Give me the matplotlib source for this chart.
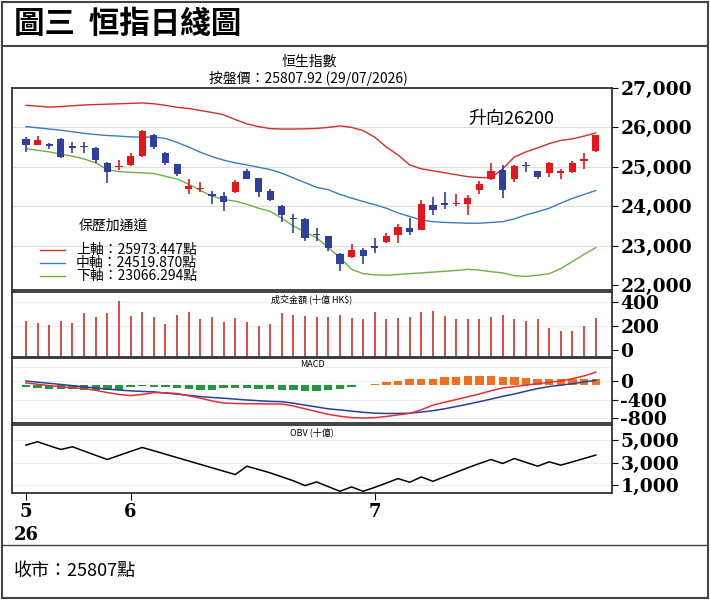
import matplotlib
matplotlib.use("Agg")
import matplotlib.pyplot as plt
import numpy as np

plt.rcParams['font.family'] = ['Noto Sans CJK TC', 'DejaVu Sans']

opens  = [25713,25565,25589,25713,25523,25531,25490,25110,24986,25053,25276,25820,25358,25069,24433,24433,24310,24253,24351,24888,
          24706,24393,24005,23708,23675,23295,23237,22800,22702,22883,22990,23097,23262,23444,23403,24038,24088,24046,24046,24418,
          24681,24913,24698,25053,24888,24847,24847,24863,25160,25400]
closes = [25548,25688,25531,25243,25490,25506,25177,24863,25020,25276,25919,25506,25110,24830,24516,24475,24269,24104,24615,24698,
          24351,24170,23790,23667,23196,23262,22949,22537,22883,22726,22949,23237,23485,23345,24063,23898,24038,24088,24211,24558,
          24888,24418,25011,25011,24748,25094,24888,25094,25193,25808]
highs  = [25754,25770,25610,25720,25630,25630,25510,25130,25177,25358,25930,25830,25370,25080,24681,24615,24393,24351,24665,24946,
          24720,24434,24020,23815,23690,23444,23250,22810,23048,22949,23196,23320,23543,23691,24170,24228,24368,24310,24285,24640,
          25094,25053,25053,25135,24900,25135,24946,25160,25342,25820]
lows   = [25383,25548,25440,25220,25342,25342,25110,24599,24912,25030,25260,25440,25053,24780,24310,24351,24063,23873,24340,24680,
          24228,24121,23609,23320,23114,23130,22866,22355,22690,22537,22825,23080,23073,23262,23390,23790,23939,24005,23774,24310,
          24670,24203,24615,24863,24681,24748,24698,24850,24946,25380]
upper = [26560,26540,26515,26530,26550,26570,26580,26590,26600,26610,26620,26600,26560,26510,26480,26430,26380,26320,26200,26090,
         26020,25970,25960,25960,25965,25975,26000,26040,26000,25920,25750,25500,25300,25050,24950,24900,24850,24800,24750,24730,
         24720,24950,25250,25380,25480,25590,25670,25710,25780,25860]
middle = [26020,25990,25960,25930,25890,25850,25820,25795,25780,25760,25755,25755,25720,25620,25500,25370,25260,25170,25100,25050,
          24990,24930,24840,24720,24600,24480,24420,24300,24210,24120,24040,23950,23830,23740,23650,23610,23590,23580,23570,23570,
          23590,23610,23680,23780,23860,23950,24080,24200,24300,24400]
lower = [25460,25420,25380,25320,25270,25200,25100,24930,24880,24860,24850,24830,24760,24690,24560,24400,24260,24170,24130,24050,
         23950,23870,23700,23500,23350,23200,22950,22700,22400,22290,22260,22250,22270,22290,22310,22330,22350,22370,22400,22380,
         22340,22310,22240,22220,22250,22290,22420,22600,22780,22950]
volume = [237,219,207,243,225,305,272,305,408,278,317,272,213,287,311,257,272,234,260,228,
          198,213,305,293,281,272,272,287,266,252,314,252,266,272,314,323,281,257,252,252,
          272,293,252,237,257,178,154,154,198,263]
dif = [-42,-70,-100,-125,-145,-163,-200,-250,-290,-315,-290,-250,-255,-270,-320,-370,-430,-475,-485,-490,
       -492,-495,-497,-540,-600,-660,-720,-760,-790,-800,-790,-765,-730,-700,-620,-520,-460,-400,-340,-280,
       -210,-150,-120,-90,-57,-30,0,50,110,190]
dea = [0,-25,-50,-75,-100,-127,-150,-175,-195,-212,-225,-234,-260,-285,-310,-335,-355,-372,-390,-410,
       -425,-440,-446,-480,-520,-560,-600,-623,-650,-675,-694,-700,-700,-695,-670,-640,-600,-550,-500,-446,
       -390,-330,-280,-220,-163,-120,-90,-57,-20,14]
hist = [-40,-55,-85,-85,-85,-100,-100,-105,-100,-28,-20,-28,-42,-55,-85,-100,-100,-55,-55,-55,
        -70,-85,-100,-110,-125,-125,-110,-85,-28,7,28,70,100,125,140,140,170,185,200,200,
        200,185,170,155,140,140,125,125,125,125]
hist_base = -92
obv = [4556,4852,4500,4170,4408,4030,3650,3283,3640,4000,4348,4050,3750,3450,3150,2850,2550,2250,1950,2690,
       2400,2100,1750,1400,970,1300,880,470,855,470,820,1200,1595,1270,1740,1355,1750,2150,2550,2930,
       3280,2930,3370,3030,2690,3075,2780,3075,3370,3670]
month_idx = [0, 9, 30]
month_labels = ["5\n26", "6", "7"]

n = len(opens)
x = np.arange(n)
RED, BLUE = '#e8141c', '#2e3f9e'
serif = dict(family='DejaVu Serif', weight='bold')

fig = plt.figure(figsize=(7.1, 6.0), dpi=100)
fig.patch.set_facecolor('white')
fig.add_artist(plt.Rectangle((0.003, 0.003), 0.994, 0.994, transform=fig.transFigure, fill=False, lw=1.5, ec='#444'))
fig.add_artist(plt.Line2D([0.003, 0.997], [0.923, 0.923], transform=fig.transFigure, color='#444', lw=1.5))
fig.add_artist(plt.Line2D([0.003, 0.997], [0.092, 0.092], transform=fig.transFigure, color='#444', lw=1))
fig.text(0.02, 0.96, "圖三  恒指日綫圖", fontsize=22, weight='bold', va='center')
fig.text(0.02, 0.048, "收市：25807點", fontsize=13, va='center')
fig.text(0.435, 0.897, "恒生指數", fontsize=10, ha='center', va='center')
fig.text(0.435, 0.870, "按盤價：25807.92 (29/07/2026)", fontsize=10, ha='center', va='center')

L, W = 12/710, 600/710
ax1 = fig.add_axes([L, 1-290/600, W, 202/600])
ax2 = fig.add_axes([L, 1-357/600, W, 65/600])
ax3 = fig.add_axes([L, 1-423/600, W, 65/600])
ax4 = fig.add_axes([L, 1-493/600, W, 68/600])
for a in (ax1, ax2, ax3, ax4):
    a.set_xlim(-1.2, n + 0.4)
    a.yaxis.tick_right()
    a.tick_params(axis='y', length=4, labelsize=13.5, pad=2)
    a.set_xticks([])
    for s in a.spines.values():
        s.set_color('#333'); s.set_linewidth(1.3)

ax1.set_ylim(21876, 26876)
ax1.set_yticks([22000, 23000, 24000, 25000, 26000, 27000])
ax1.set_yticklabels(['22,000', '23,000', '24,000', '25,000', '26,000', '27,000'], **serif)
for yv in [23000, 24000, 25000, 26000]:
    ax1.axhline(yv, color='#dddddd', lw=0.8, zorder=0)
ax1.plot(x, upper, color='#d0302a', lw=1)
ax1.plot(x, middle, color='#3a7cc0', lw=1)
ax1.plot(x, lower, color='#70b040', lw=1)
for i in range(n):
    c = RED if closes[i] >= opens[i] else BLUE
    ax1.vlines(x[i], lows[i], highs[i], color=c, lw=1.2, zorder=3)
    lo, hi = min(opens[i], closes[i]), max(opens[i], closes[i])
    ax1.bar(x[i], max(hi - lo, 30), bottom=lo, width=0.62, color=c, zorder=4)
ax1.text(38, 26100, "升向26200", fontsize=13)
ax1.text(4.5, 23400, "保歷加通道", fontsize=10)
for k, (lab, col, yv) in enumerate([("上軸：25973.447點", '#d0302a', 22900),
                                    ("中軸：24519.870點", '#3a7cc0', 22570),
                                    ("下軸：23066.294點", '#70b040', 22240)]):
    ax1.plot([1.2, 3.4], [yv, yv], color=col, lw=1)
    ax1.text(4.3, yv, lab, fontsize=10, va='center')

ax2.set_ylim(-60, 480)
ax2.set_yticks([0, 200, 400])
ax2.set_yticklabels(['0', '200', '400'], **serif)
for yv in [200, 400]:
    ax2.axhline(yv, color='#eeeeee', lw=0.8, zorder=0)
ax2.vlines(x, -60, volume, color='#d0302a', lw=1.2)
ax2.text(0.5, 0.96, "成交金額 (十億 HK$)", transform=ax2.transAxes, ha='center', va='top', fontsize=6.5)

ax3.set_ylim(-906, 496)
ax3.set_yticks([0, -400, -800])
ax3.set_yticklabels(['0', '-400', '-800'], **serif)
for yv in [0, -400, -800, 300]:
    ax3.axhline(yv, color='#eeeeee', lw=0.8, zorder=0)
hcol = ['#f07020' if h > 0 else '#1f9a3a' for h in hist]
ax3.bar(x, hist, bottom=hist_base, width=0.72, color=hcol, zorder=2)
ax3.plot(x, dea, color='#2a3f9a', lw=1.1, zorder=3)
ax3.plot(x, dif, color='#e0303a', lw=1.1, zorder=3)
ax3.text(0.5, 0.97, "MACD", transform=ax3.transAxes, ha='center', va='top', fontsize=6.5)

ax4.set_ylim(319, 6333)
ax4.set_yticks([1000, 3000, 5000])
ax4.set_yticklabels(['1,000', '3,000', '5,000'], **serif)
for yv in [1000, 3000, 5000]:
    ax4.axhline(yv, color='#eeeeee', lw=0.8, zorder=0)
ax4.plot(x, obv, color='black', lw=1.1)
ax4.text(0.5, 0.97, "OBV (十億)", transform=ax4.transAxes, ha='center', va='top', fontsize=6.5)
ax4.set_xticks(month_idx)
ax4.set_xticklabels(month_labels, fontsize=13, linespacing=1.4, va='top', **serif)
ax4.tick_params(axis='x', length=5, pad=2)

fig.savefig("out.png", dpi=100, facecolor='white')
